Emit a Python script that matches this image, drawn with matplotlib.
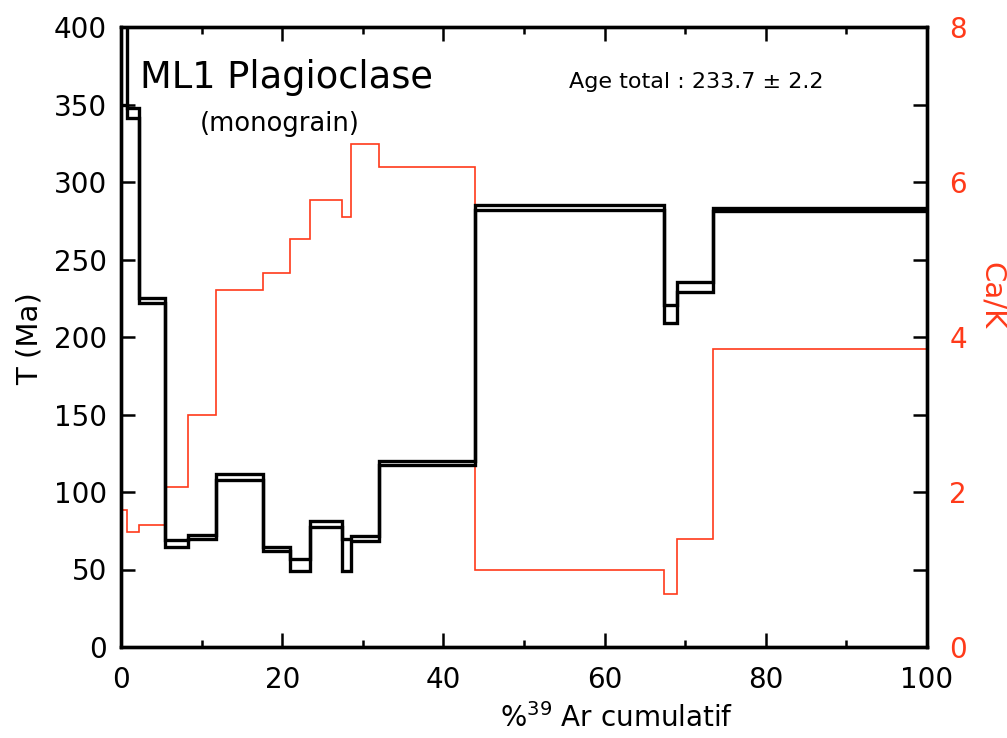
import matplotlib
matplotlib.use("Agg")
from matplotlib import pyplot as plt
from matplotlib.ticker import MultipleLocator, NullFormatter

# palier : bornes en % 39Ar cumule
edges = [0, 0.74, 2.2, 5.46, 8.35, 11.75, 17.65, 20.97, 23.45, 27.46,
         28.54, 31.95, 43.92, 67.35, 69.0, 73.45, 100]
# ages min / max (Ma) par palier
age_low = [350, 341, 222.0, 64.6, 69.4, 107.6, 62.0, 49.2, 77.1, 49.2,
           68.3, 117.2, 282.0, 208.9, 228.9, 281.0]
age_high = [430, 348, 225.2, 68.9, 72.1, 111.9, 64.6, 56.7, 81.4, 69.6,
            71.7, 119.8, 285.2, 220.7, 235.3, 283.2]
# rapport Ca/K par palier
cak = [1.765, 1.478, 1.58, 2.066, 3.0, 4.61, 4.83, 5.27, 5.77, 5.55,
       6.49, 6.2, 0.99, 0.68, 1.40, 3.84]

rouge = '#ff3a1a'
plt.rcParams['font.family'] = ['DejaVu Sans']

fig = plt.figure(figsize=(10.07, 7.38), dpi=100)
ax = fig.add_axes([121/1007, 1 - 647/738, 806/1007, 620/738])
ax2 = ax.twinx()

# Ca/K derriere le spectre d'age
ax2.stairs(cak, edges, baseline=None, color=rouge, lw=1.2)
ax.set_zorder(ax2.get_zorder() + 1)
ax.patch.set_visible(False)

ax.stairs(age_high, edges, baseline=None, color='black', lw=2.4)
ax.stairs(age_low, edges, baseline=None, color='black', lw=2.4)

ax.set_xlim(0, 100)
ax.set_ylim(0, 400)
ax2.set_ylim(0, 8)

for a in (ax, ax2):
    for s in a.spines.values():
        s.set_linewidth(2.4)

ax.xaxis.set_major_locator(MultipleLocator(20))
ax.xaxis.set_minor_locator(MultipleLocator(10))
ax.yaxis.set_major_locator(MultipleLocator(50))
ax.tick_params(axis='x', which='major', direction='in', length=10, width=1.8,
               labelsize=20, pad=14, top=True)
ax.tick_params(axis='x', which='minor', direction='in', length=5, width=1.8, top=True)
ax.tick_params(axis='y', which='major', direction='in', length=10, width=1.8,
               labelsize=20, pad=10, right=False)

ax2.yaxis.set_major_locator(MultipleLocator(2))
ax2.yaxis.set_minor_locator(MultipleLocator(1))
ax2.yaxis.set_minor_formatter(NullFormatter())
ax2.tick_params(axis='y', which='both', direction='in', length=10, width=1.8,
                labelsize=20, pad=16, labelcolor=rouge)

ax.set_xlabel(r'%$^{39}$ Ar cumulatif', fontsize=20)
ax.xaxis.set_label_coords(0.615, -0.129)
ax.xaxis.label.set_va('baseline')

ax.set_ylabel('T (Ma)', fontsize=21)
ax.yaxis.label.set(rotation_mode='default', va='center', ha='center')
ax.yaxis.set_label_coords(-0.113, 0.497)

ax2.set_ylabel('Ca/K', fontsize=21, color=rouge, rotation=270)
ax2.yaxis.label.set(rotation_mode='default', va='center', ha='center')
ax2.yaxis.set_label_coords(1.081, 0.566)

ax.text(2.4, 360.7, 'ML1 Plagioclase', fontsize=26.5, va='baseline')
ax.text(9.8, 333, '(monograin)', fontsize=18.5, va='baseline')
ax.text(55.6, 360.4, 'Age total : 233.7 \u00b1 2.2', fontsize=16, va='baseline')

fig.savefig('out.png', dpi=100)
